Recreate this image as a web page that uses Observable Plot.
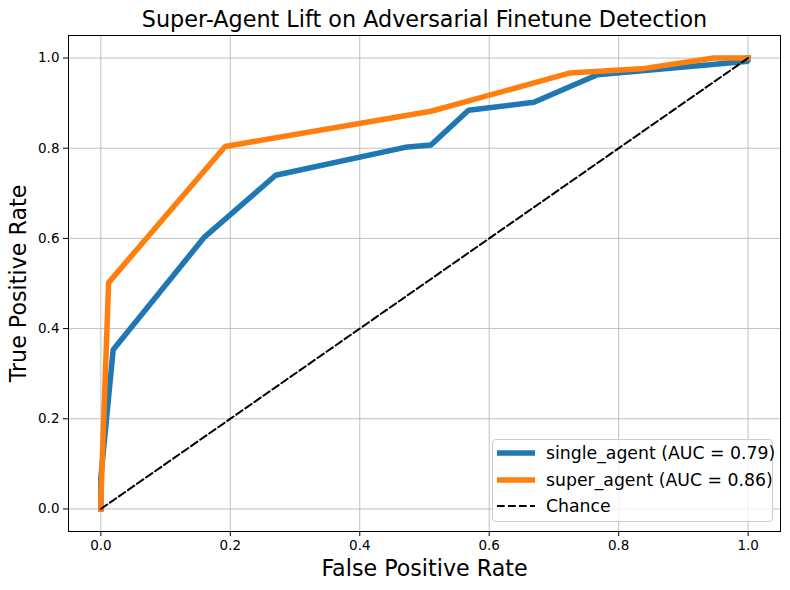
<!DOCTYPE html>
<html><head><meta charset="utf-8">
<script src="https://cdn.jsdelivr.net/npm/d3@7"></script>
<script src="https://cdn.jsdelivr.net/npm/@observablehq/plot@0.6"></script>
<style>
body{margin:0;background:#fff;font-family:"DejaVu Sans",sans-serif}
#wrap{position:relative;width:790px;height:590px}
#legend{position:absolute;left:492px;top:439px;width:279px;height:81px;border:1px solid #cccccc;border-radius:4px;background:rgba(255,255,255,0.8);font-size:17.3px;color:#000}
.row{position:absolute;left:0;height:20px;display:flex;align-items:center;white-space:nowrap}
.row svg{margin-left:3px;margin-right:10px}
</style>
</head><body>
<div id="wrap"><div id="chart"></div><div id="legend"></div></div>
<script>
const title = "Super-Agent Lift on Adversarial Finetune Detection";
const xLabel = "False Positive Rate";
const yLabel = "True Positive Rate";
const ticks = [0, 0.2, 0.4, 0.6, 0.8, 1.0];

const singleName = "single_agent (AUC = 0.79)";
const singleFpr = [0, 0, 0.019, 0.16, 0.27, 0.47, 0.51, 0.568, 0.669, 0.767, 0.94, 1.0, 1.0];
const singleTpr = [0, 0.07, 0.353, 0.603, 0.74, 0.802, 0.807, 0.884, 0.902, 0.963, 0.985, 0.993, 1.0];

const superName = "super_agent (AUC = 0.86)";
const superFpr = [0, 0, 0.012, 0.192, 0.51, 0.725, 0.835, 0.947, 1.0];
const superTpr = [0, 0.02, 0.502, 0.804, 0.882, 0.967, 0.976, 1.0, 1.0];

const chanceName = "Chance";
const chanceFpr = [0, 1];
const chanceTpr = [0, 1];

const blue = "#1f77b4", orange = "#ff7f0e";
const toPts = (xs, ys) => xs.map((x, i) => ({x, y: ys[i]}));

const plot = Plot.plot({
  width: 790, height: 590,
  marginLeft: 68, marginRight: 10, marginTop: 35, marginBottom: 59,
  style: {fontFamily: "DejaVu Sans, sans-serif", fontSize: "13.5px", background: "white", color: "black"},
  x: {domain: [-0.05, 1.05]},
  y: {domain: [-0.05, 1.05]},
  marks: [
    Plot.gridX(ticks, {stroke: "#b0b0b0", strokeOpacity: 1, strokeWidth: 0.8}),
    Plot.gridY(ticks, {stroke: "#b0b0b0", strokeOpacity: 1, strokeWidth: 0.8}),
    Plot.line(toPts(singleFpr, singleTpr), {x: "x", y: "y", stroke: blue, strokeWidth: 5.5, strokeLinejoin: "miter", strokeLinecap: "square"}),
    Plot.line(toPts(superFpr, superTpr), {x: "x", y: "y", stroke: orange, strokeWidth: 5.5, strokeLinejoin: "miter", strokeLinecap: "square"}),
    Plot.line(toPts(chanceFpr, chanceTpr), {x: "x", y: "y", stroke: "black", strokeWidth: 2, strokeDasharray: "7.7,3.3"}),
    Plot.frame({stroke: "black", strokeWidth: 1}),
    Plot.axisX({ticks, tickFormat: ".1f", tickSize: 5, tickPadding: 4, label: null, fontSize: 13.5}),
    Plot.axisY({ticks, tickFormat: ".1f", tickSize: 5, tickPadding: 4, label: null, fontSize: 13.5}),
    Plot.text([title], {frameAnchor: "top", dy: -16, fontSize: 22.3, text: d => d, textAnchor: "middle", lineAnchor: "middle"}),
    Plot.text([xLabel], {frameAnchor: "bottom", dy: 37, fontSize: 22.2, text: d => d, textAnchor: "middle", lineAnchor: "middle"}),
    Plot.text([yLabel], {frameAnchor: "left", dx: -50, rotate: -90, fontSize: 22.2, text: d => d, textAnchor: "middle", lineAnchor: "middle"})
  ]
});
document.getElementById("chart").appendChild(plot);

const legendItems = [
  {name: singleName, color: blue, width: 5.5, dash: null},
  {name: superName, color: orange, width: 5.5, dash: null},
  {name: chanceName, color: "black", width: 2, dash: "7.7,3.3"}
];
const lg = document.getElementById("legend");
legendItems.forEach((d, i) => {
  const row = document.createElement("div");
  row.className = "row";
  row.style.top = (3 + i * 26.5) + "px";
  row.innerHTML = `<svg width="40" height="20"><line x1="1" x2="39" y1="10" y2="10" stroke="${d.color}" stroke-width="${d.width}" ${d.dash ? `stroke-dasharray="${d.dash}"` : ""}/></svg><span>${d.name}</span>`;
  lg.appendChild(row);
});
</script>
</body></html>
